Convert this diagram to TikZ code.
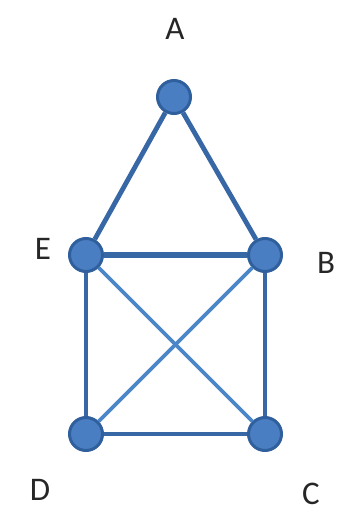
\documentclass[tikz,border=0pt]{standalone}
\usepackage{fontspec}
\setmainfont{Carlito}
\definecolor{vfill}{HTML}{4A7EC2}
\definecolor{vline}{HTML}{2F5F9C}
\definecolor{eline}{HTML}{3867A6}
\definecolor{dline}{HTML}{4A86C8}
\begin{document}
\begin{tikzpicture}[x=1pt,y=-1pt,
  vertex/.style={circle,fill=vfill,draw=vline,line width=3pt,minimum size=33pt,inner sep=0pt},
  lbl/.style={font=\fontsize{33}{37}\selectfont,text=black!85},
  edge/.style={draw=eline,line width=4.8pt},
  diag/.style={draw=dline,line width=3.6pt}]
\useasboundingbox (0,0) rectangle (341,518);
% vertices
\node[vertex] (A) at (174,97) {};
\node[vertex] (E) at (86,255) {};
\node[vertex] (B) at (265,255) {};
\node[vertex] (D) at (86,434) {};
\node[vertex] (C) at (265,434) {};
% labels
\node[lbl] (lA) at (175,29) {A};
\node[lbl] (lE) at (43,249) {E};
\node[lbl] (lB) at (326,263) {B};
\node[lbl] (lD) at (40,490) {D};
\node[lbl] (lC) at (311,494) {C};
% edges
\begin{scope}[on background layer/.try]
\draw[edge] (A) -- (E);
\draw[edge] (A) -- (B);
\draw[edge,line width=6pt] (E) -- (B);
\draw[edge] (E) -- (D);
\draw[edge] (B) -- (C);
\draw[edge] (D) -- (C);
\draw[diag] (E) -- (C);
\draw[diag] (B) -- (D);
\end{scope}
\end{tikzpicture}
\end{document}
